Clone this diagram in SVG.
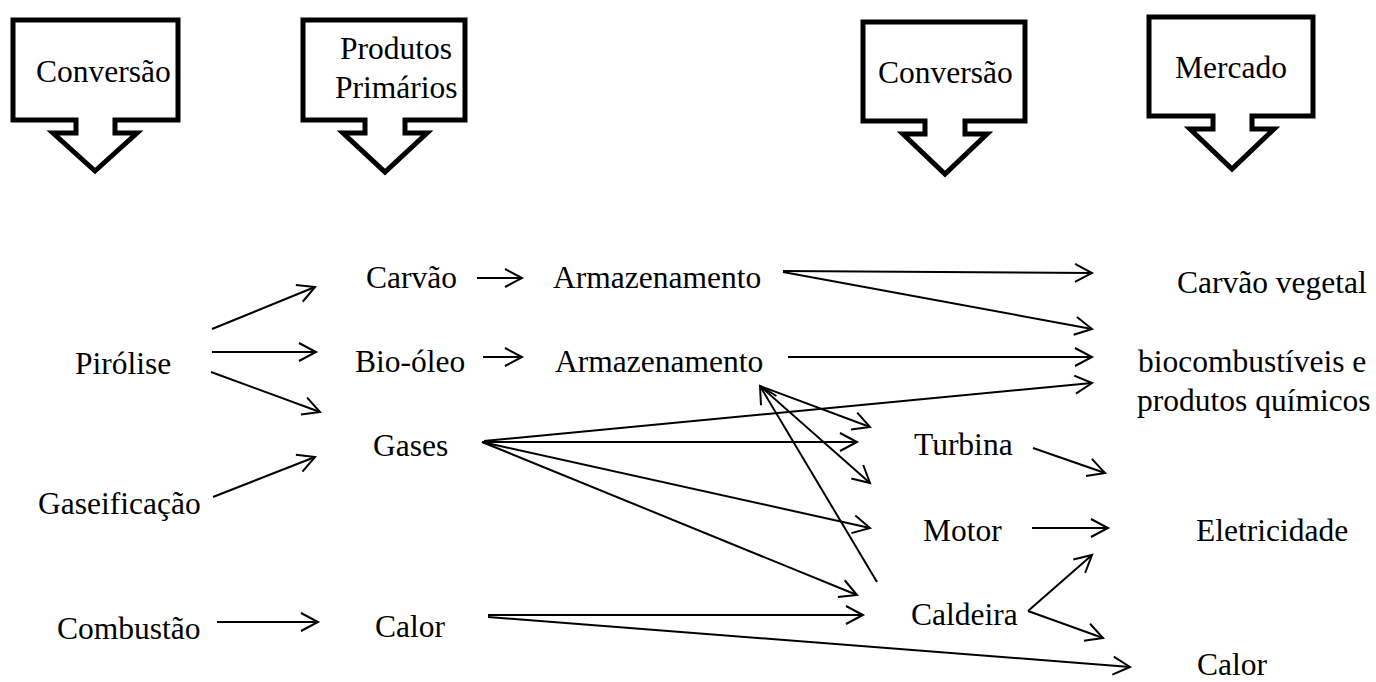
<svg xmlns="http://www.w3.org/2000/svg" width="1376" height="682" viewBox="0 0 1376 682">
<style>
.t{font-family:"Liberation Serif","Times New Roman",serif;font-size:31.5px;fill:#000}
.box{fill:#fff;stroke:#000;stroke-width:5;stroke-miterlimit:10}
.c line{stroke:#000;stroke-width:2;fill:none}
.a{marker-end:url(#ah)}
</style>
<defs>
<marker id="ah" markerUnits="userSpaceOnUse" orient="auto" markerWidth="40" markerHeight="40" refX="0" refY="0" viewBox="-20 -20 40 40" overflow="visible">
<path d="M-17,-9 L0,0 L-17,9" fill="none" stroke="#000" stroke-width="2"/>
</marker>
</defs>
<rect width="1376" height="682" fill="#fff"/>
<g id="h1"><path class="box" d="M13,20 H178 V120 H115 V133 H137 L95,171 L53,133 H76 V120 H13 Z"/><text class="t" x="36" y="82">Conversão</text></g>
<g id="h2"><path class="box" d="M303,20 H465 V120 H405 V133 H427 L385,172 L343,133 H365 V120 H303 Z"/><text class="t" x="340" y="59">Produtos</text><text class="t" x="335" y="98">Primários</text></g>
<g id="h3"><path class="box" d="M863,22 H1025 V121 H965 V134 H987 L945,174 L903,134 H925 V121 H863 Z"/><text class="t" x="878" y="83">Conversão</text></g>
<g id="h4"><path class="box" d="M1149,17 H1313 V116 H1252 V129 H1274 L1232,169 L1190,129 H1213 V116 H1149 Z"/><text class="t" x="1175" y="78">Mercado</text></g>
<g id="n-pirolise"><text class="t" x="75" y="374">Pirólise</text></g>
<g id="n-gaseificacao"><text class="t" x="38" y="514">Gaseificação</text></g>
<g id="n-combustao"><text class="t" x="57" y="639">Combustão</text></g>
<g id="n-carvao"><text class="t" x="366" y="288">Carvão</text></g>
<g id="n-biooleo"><text class="t" x="355" y="372">Bio-óleo</text></g>
<g id="n-gases"><text class="t" x="373" y="456">Gases</text></g>
<g id="n-calor1"><text class="t" x="375" y="637">Calor</text></g>
<g id="n-arm1"><text class="t" x="553" y="288">Armazenamento</text></g>
<g id="n-arm2"><text class="t" x="555" y="372">Armazenamento</text></g>
<g id="n-turbina"><text class="t" x="914" y="455">Turbina</text></g>
<g id="n-motor"><text class="t" x="923" y="541">Motor</text></g>
<g id="n-caldeira"><text class="t" x="911" y="625">Caldeira</text></g>
<g id="n-carvaovegetal"><text class="t" x="1177" y="293">Carvão vegetal</text></g>
<g id="n-bio"><text class="t" x="1138" y="372">biocombustíveis e</text><text class="t" x="1137" y="411">produtos químicos</text></g>
<g id="n-eletricidade"><text class="t" x="1196" y="541">Eletricidade</text></g>
<g id="n-calor2"><text class="t" x="1197" y="675">Calor</text></g>
<g id="connectors" class="c">
<line class="a" x1="212" y1="329" x2="315" y2="287"/>
<line class="a" x1="212" y1="352" x2="316" y2="352"/>
<line class="a" x1="211" y1="372" x2="320" y2="412"/>
<line class="a" x1="213" y1="497" x2="315" y2="457"/>
<line class="a" x1="217" y1="622" x2="318" y2="622"/>
<line class="a" x1="477" y1="278" x2="522" y2="278"/>
<line class="a" x1="483" y1="357" x2="522" y2="357"/>
<line class="a" x1="783" y1="271" x2="1092" y2="273"/>
<line class="a" x1="783" y1="272" x2="1092" y2="329"/>
<line class="a" x1="788" y1="357" x2="1092" y2="357"/>
<line class="a" x1="484" y1="441" x2="1092" y2="383"/>
<line class="a" x1="482" y1="442" x2="857" y2="442"/>
<line class="a" x1="482" y1="442" x2="870" y2="528"/>
<line class="a" x1="482" y1="442" x2="857" y2="595"/>
<line class="a" x1="488" y1="615" x2="863" y2="615"/>
<line class="a" x1="488" y1="617" x2="1130" y2="667"/>
<line class="a" x1="760" y1="386" x2="870" y2="427"/>
<line class="a" x1="760" y1="386" x2="870" y2="483"/>
<line class="a" x1="877" y1="582" x2="760" y2="386"/>
<line class="a" x1="1033" y1="448" x2="1105" y2="473"/>
<line class="a" x1="1032" y1="528" x2="1108" y2="528"/>
<line class="a" x1="1028" y1="611" x2="1092" y2="555"/>
<line class="a" x1="1028" y1="611" x2="1103" y2="638"/>
</g>
</svg>
